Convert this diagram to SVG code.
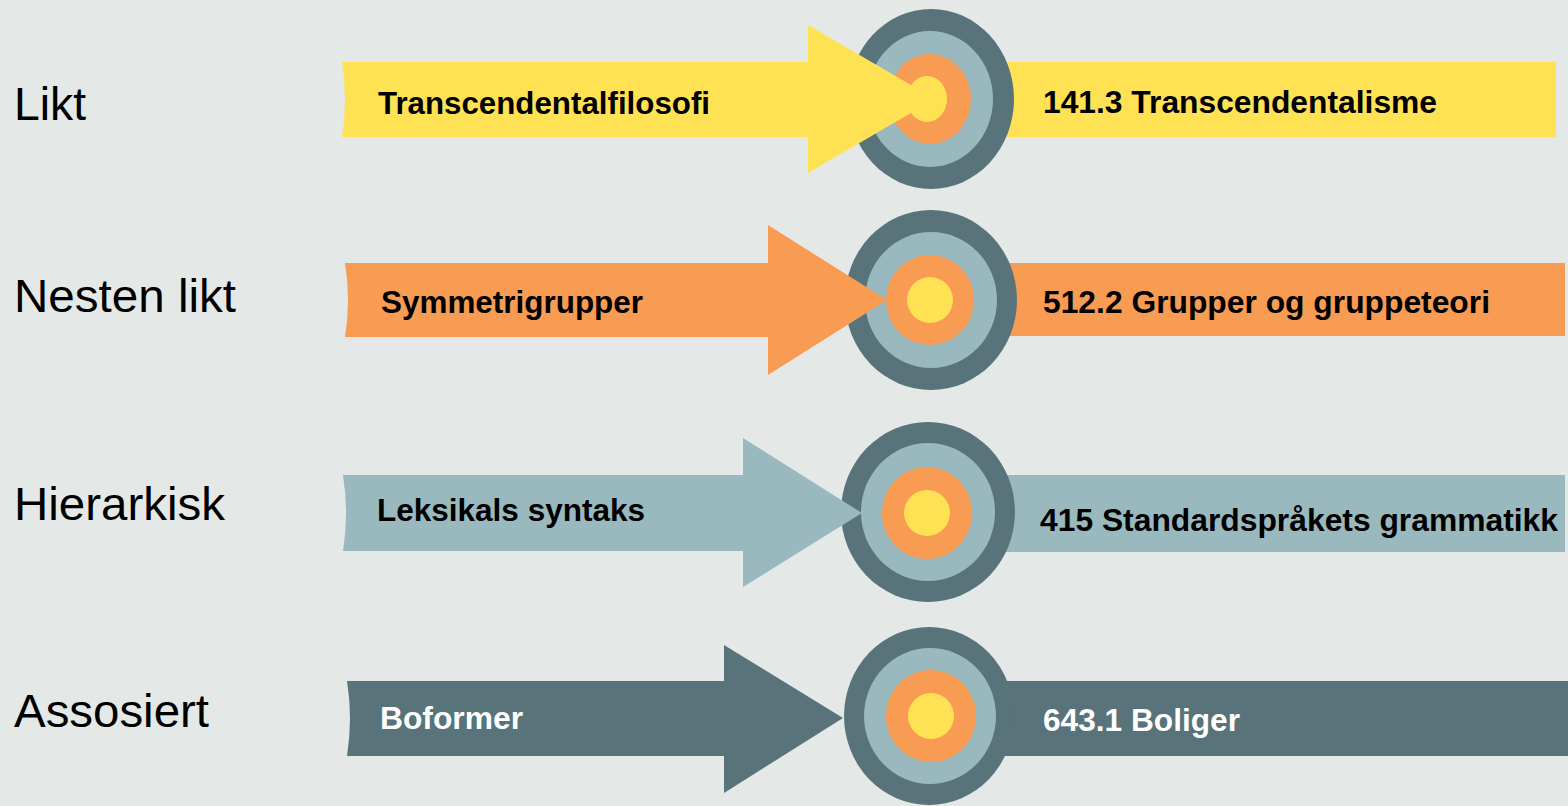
<svg xmlns="http://www.w3.org/2000/svg" width="1568" height="806" viewBox="0 0 1568 806">
<style>
.bg{fill:#E4E9E8}
.y{fill:#FFE254}
.o{fill:#F89B53}
.l{fill:#99B9BF}
.d{fill:#587379}
.cat{font-family:"Liberation Sans",Arial,sans-serif;font-size:46px;fill:#000}
.lab{font-family:"Liberation Sans",Arial,sans-serif;font-size:31px;font-weight:bold;fill:#000}
.labw{font-family:"Liberation Sans",Arial,sans-serif;font-size:31px;font-weight:bold;fill:#fff}
</style>
<rect class="bg" x="0" y="0" width="1568" height="806"/>

<g id="categories">
<text class="cat" x="14" y="120" textLength="72" lengthAdjust="spacingAndGlyphs">Likt</text>
<text class="cat" x="14" y="312" textLength="222" lengthAdjust="spacingAndGlyphs">Nesten likt</text>
<text class="cat" x="14" y="520" textLength="211" lengthAdjust="spacingAndGlyphs">Hierarkisk</text>
<text class="cat" x="14" y="727" textLength="195" lengthAdjust="spacingAndGlyphs">Assosiert</text>
</g>

<!-- right-hand target bands -->
<g id="target-141-3">
<rect class="y" x="930" y="62" width="626" height="75"/>
<text class="lab" x="1043" y="113" textLength="394" lengthAdjust="spacingAndGlyphs">141.3 Transcendentalisme</text>
</g>
<g id="target-512-2">
<rect class="o" x="930" y="263" width="635" height="73"/>
<text class="lab" x="1043" y="313" textLength="447" lengthAdjust="spacingAndGlyphs">512.2 Grupper og gruppeteori</text>
</g>
<g id="target-415">
<rect class="l" x="930" y="475" width="635" height="77"/>
<text class="lab" x="1040" y="531" textLength="518" lengthAdjust="spacingAndGlyphs">415 Standardspråkets grammatikk</text>
</g>
<g id="target-643-1">
<rect class="d" x="930" y="681" width="638" height="75"/>
<text class="labw" x="1043" y="731" textLength="197" lengthAdjust="spacingAndGlyphs">643.1 Boliger</text>
</g>

<!-- bullseyes -->
<g id="bullseye-1">
<ellipse class="d" cx="931" cy="99" rx="83" ry="90"/>
<ellipse class="l" cx="930" cy="99" rx="63" ry="68"/>
<ellipse class="o" cx="930" cy="99" rx="41" ry="45"/>
<ellipse class="y" cx="927" cy="99" rx="20" ry="23"/>
</g>
<g id="bullseye-2">
<ellipse class="d" cx="931" cy="300" rx="86" ry="90"/>
<ellipse class="l" cx="931" cy="300" rx="66" ry="68"/>
<ellipse class="o" cx="930" cy="300" rx="44" ry="45"/>
<ellipse class="y" cx="930" cy="300" rx="23" ry="23"/>
</g>
<g id="bullseye-3">
<ellipse class="d" cx="928" cy="512" rx="87" ry="90"/>
<ellipse class="l" cx="928" cy="512" rx="67" ry="69"/>
<ellipse class="o" cx="927" cy="513" rx="45" ry="46"/>
<ellipse class="y" cx="927" cy="513" rx="23" ry="23"/>
</g>
<g id="bullseye-4">
<ellipse class="d" cx="929" cy="716" rx="85" ry="89"/>
<ellipse class="l" cx="930" cy="716" rx="66" ry="68"/>
<ellipse class="o" cx="931" cy="716" rx="45" ry="46"/>
<ellipse class="y" cx="931" cy="716" rx="23" ry="23"/>
</g>

<!-- arrows -->
<g id="connectors">
<path class="y" d="M342,62 L808,62 L808,25 L935,99 L808,173 L808,137 L342,137 Q348,99.5 342,62 Z"/>
<path class="o" d="M345,263 L768,263 L768,225 L887,300 L768,375 L768,337 L345,337 Q351,300 345,263 Z"/>
<path class="l" d="M343,475 L743,475 L743,438 L862,513 L743,587 L743,551 L343,551 Q349,513 343,475 Z"/>
<path class="d" d="M347,681 L724,681 L724,645 L843,718 L724,793 L724,756 L347,756 Q353,718 347,681 Z"/>
</g>

<g id="source-transcendentalfilosofi">
<text class="lab" x="378" y="114" textLength="332" lengthAdjust="spacingAndGlyphs">Transcendentalfilosofi</text>
</g>
<g id="source-symmetrigrupper">
<text class="lab" x="381" y="313" textLength="262" lengthAdjust="spacingAndGlyphs">Symmetrigrupper</text>
</g>
<g id="source-leksikals-syntaks">
<text class="lab" x="377" y="521" textLength="268" lengthAdjust="spacingAndGlyphs">Leksikals syntaks</text>
</g>
<g id="source-boformer">
<text class="labw" x="380" y="729" textLength="143" lengthAdjust="spacingAndGlyphs">Boformer</text>
</g>
</svg>
